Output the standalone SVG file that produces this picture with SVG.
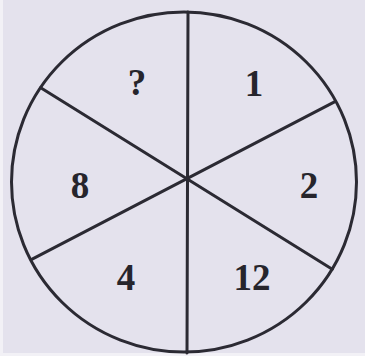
<svg xmlns="http://www.w3.org/2000/svg" width="365" height="356" viewBox="0 0 365 356">
<style>
.ln{stroke:#2b2a33;stroke-width:3;fill:none;stroke-linecap:round}
.t{font-family:"Liberation Serif","Times New Roman",serif;font-size:37px;font-weight:bold;fill:#26252c;text-anchor:middle}
</style>
<rect x="0" y="0" width="365" height="356" fill="#f2f1f6"/>
<rect x="3" y="0" width="362" height="353" fill="#e4e2ed"/>
<g id="circle">
<ellipse class="ln" cx="184" cy="182" rx="172.5" ry="170"/>
</g>
<g id="connectors">
<line class="ln" x1="188" y1="12" x2="187" y2="353"/>
<line class="ln" x1="40.7" y1="87.7" x2="332.3" y2="269.3"/>
<line class="ln" x1="335" y1="101.7" x2="31.7" y2="259.3"/>
</g>
<g id="s1"><text class="t" x="137" y="95">?</text></g>
<g id="s2"><text class="t" x="254" y="96">1</text></g>
<g id="s3"><text class="t" x="80" y="198">8</text></g>
<g id="s4"><text class="t" x="309" y="198">2</text></g>
<g id="s5"><text class="t" x="126" y="290">4</text></g>
<g id="s6"><text class="t" x="252" y="290">12</text></g>
</svg>
